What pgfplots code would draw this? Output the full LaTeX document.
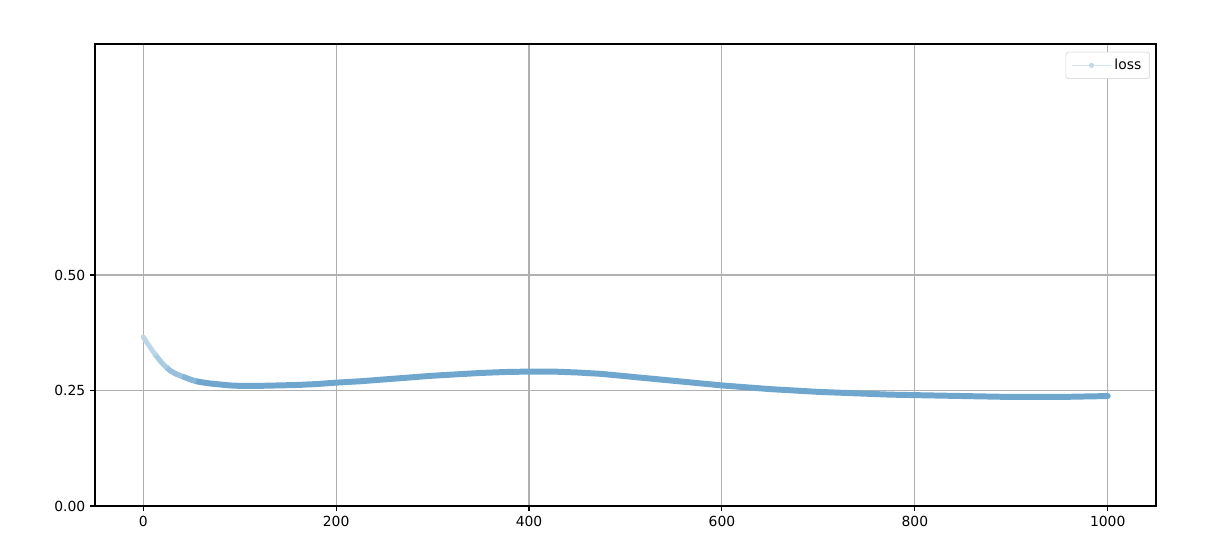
\documentclass[border=0pt]{standalone}
\usepackage{pgfplots}
\pgfplotsset{compat=1.18}
\usepackage{fontspec}
\setmainfont{DejaVu Sans}
\definecolor{cnavy}{HTML}{1F77B4}
\definecolor{lossc}{HTML}{6FA6CE}
\definecolor{gridc}{HTML}{B0B0B0}
\begin{document}
\begin{tikzpicture}
\useasboundingbox (-68.4pt,-38.88pt) rectangle (802.8pt,364.32pt);
\begin{axis}[
  at={(0,0)}, anchor=south west,
  scale only axis, width=763.9pt, height=332.6pt,
  xmin=-50, xmax=1050, ymin=0, ymax=1.0,
  xtick={0,200,400,600,800,1000},
  ytick={0,0.25,0.5},
  xticklabel style={/pgf/number format/.cd,set thousands separator={}},
  yticklabel style={/pgf/number format/.cd,fixed,fixed zerofill,precision=2},
  /pgf/number format/assume math mode=true,
  scaled y ticks=false,
  tick label style={font=\fontsize{10}{12}\selectfont},
  grid=major,
  major grid style={gridc, line width=0.8pt},
  axis line style={line width=0.8pt},
  tick style={black, line width=0.8pt},
  tick align=outside, major tick length=3.5pt,
  xtick pos=bottom, ytick pos=left,
  legend style={at={(0.9943,0.983)}, anchor=north east, draw=gray!35, rounded corners=2pt, font=\fontsize{10}{12}\selectfont, inner xsep=4pt, inner ysep=3pt},
  legend cell align=left,
]
\addplot[forget plot, color=lossc, line width=4.3pt, line join=round, line cap=round] coordinates {
(55,0.270) (60,0.268) (70,0.265) (80,0.263) (90,0.261) (100,0.260) (120,0.260) (140,0.261) (160,0.262) (180,0.264) (200,0.267) (225,0.270) (250,0.274) (275,0.278) (300,0.282) (325,0.285) (350,0.288) (375,0.290) (400,0.291) (425,0.291) (450,0.289) (475,0.286) (500,0.281) (525,0.276) (550,0.271) (575,0.266) (600,0.261) (625,0.257) (650,0.253) (675,0.250) (700,0.247) (725,0.245) (750,0.243) (775,0.241) (800,0.240) (825,0.239) (850,0.238) (875,0.237) (900,0.236) (925,0.236) (950,0.236) (975,0.237) (1000,0.238)
};
\addplot[forget plot, color=cnavy!55, line width=4.1pt, line join=round] coordinates {
(40,0.281) (45,0.277) (50,0.273) (55,0.270)
};
\addplot[forget plot, color=cnavy!46, line width=3.9pt, line join=round] coordinates {
(24,0.300) (28,0.293) (32,0.288) (36,0.284) (40,0.281)
};
\addplot[forget plot, color=cnavy!38, line width=3.7pt, line join=round] coordinates {
(12,0.329) (15,0.321) (18,0.313) (21,0.306) (24,0.300)
};
\addplot[forget plot, color=cnavy!30, line width=3.5pt, line join=round, line cap=round] coordinates {
(0,0.366) (3,0.356) (6,0.347) (9,0.338) (12,0.329)
};
\addlegendimage{legend image code/.code={\draw[cnavy!18, line width=1pt] (0pt,0pt) -- (28pt,0pt); \fill[cnavy!28] (14pt,0pt) circle (1.6pt);}}
\addlegendentry{loss}
\end{axis}
\end{tikzpicture}
\end{document}
